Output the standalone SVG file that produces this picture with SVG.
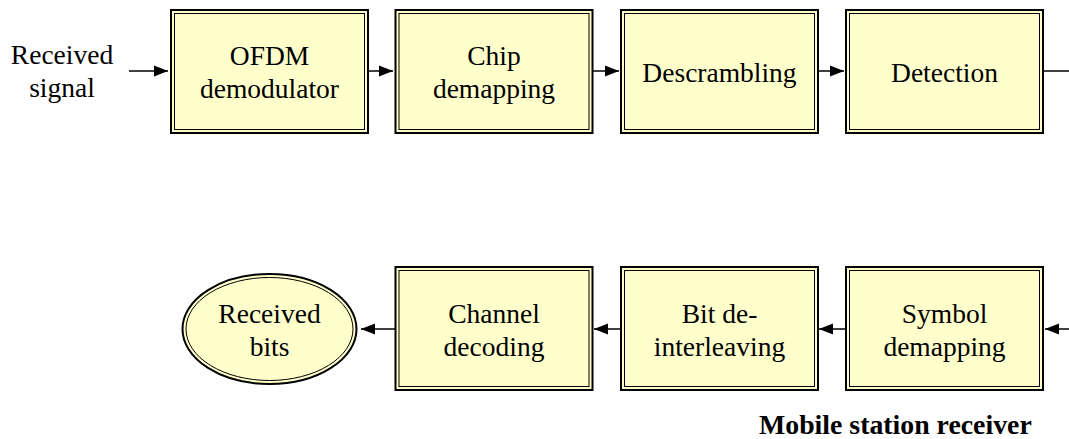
<svg xmlns="http://www.w3.org/2000/svg" width="1069" height="439" viewBox="0 0 1069 439">
<style>
.bg{fill:#ffffff}
.outer{fill:#ffffcc;stroke:#000;stroke-width:2}
.inner{fill:none;stroke:#000;stroke-width:1}
text{font-family:'Liberation Serif','Times New Roman',serif;fill:#000}
.t{font-size:27.5px;text-anchor:middle}
.title{font-size:27.8px;font-weight:700}
.c{fill:none;stroke:#000;stroke-width:1.5}
</style>
<defs>
<marker id="ah" markerUnits="userSpaceOnUse" markerWidth="15" markerHeight="13" refX="14" refY="6.5" orient="auto">
<path d="M0,1 L14,6.5 L0,12 Z" fill="#000"/>
</marker>
</defs>
<rect class="bg" x="0" y="0" width="1069" height="439"/>
<g id="connectors">
<path class="c" d="M129,71 H168" marker-end="url(#ah)"/>
<path class="c" d="M368,71 H393" marker-end="url(#ah)"/>
<path class="c" d="M592,71 H619" marker-end="url(#ah)"/>
<path class="c" d="M818,71 H844" marker-end="url(#ah)"/>
<path class="c" d="M1043,71 H1069"/>
<path class="c" d="M1069,329 H1045" marker-end="url(#ah)"/>
<path class="c" d="M846,329 H819" marker-end="url(#ah)"/>
<path class="c" d="M621,329 H594" marker-end="url(#ah)"/>
<path class="c" d="M395,329 H361" marker-end="url(#ah)"/>
</g>
<g id="input-label">
<text class="t" x="62" y="63.5">Received</text>
<text class="t" x="62" y="97">signal</text>
</g>
<g id="ofdm">
<rect class="outer" x="171" y="10" width="197" height="123"/>
<rect class="inner" x="174.5" y="13.5" width="190" height="116"/>
<text class="t" x="269.5" y="65">OFDM</text>
<text class="t" x="269.5" y="97.5">demodulator</text>
</g>
<g id="chip">
<rect class="outer" x="395.5" y="10" width="197" height="123"/>
<rect class="inner" x="399" y="13.5" width="190" height="116"/>
<text class="t" x="494" y="65">Chip</text>
<text class="t" x="494" y="97.5">demapping</text>
</g>
<g id="descrambling">
<rect class="outer" x="621" y="10" width="197" height="123"/>
<rect class="inner" x="624.5" y="13.5" width="190" height="116"/>
<text class="t" x="719.5" y="81.5">Descrambling</text>
</g>
<g id="detection">
<rect class="outer" x="846" y="10" width="197" height="123"/>
<rect class="inner" x="849.5" y="13.5" width="190" height="116"/>
<text class="t" x="944.5" y="81.5">Detection</text>
</g>
<g id="symbol">
<rect class="outer" x="846" y="267" width="197" height="123"/>
<rect class="inner" x="849.5" y="270.5" width="190" height="116"/>
<text class="t" x="944.5" y="322.5">Symbol</text>
<text class="t" x="944.5" y="355.5">demapping</text>
</g>
<g id="deinterleaving">
<rect class="outer" x="621" y="267" width="197" height="123"/>
<rect class="inner" x="624.5" y="270.5" width="190" height="116"/>
<text class="t" x="719.5" y="322.5">Bit de-</text>
<text class="t" x="719.5" y="355.5">interleaving</text>
</g>
<g id="channel">
<rect class="outer" x="395.5" y="267" width="197" height="123"/>
<rect class="inner" x="399" y="270.5" width="190" height="116"/>
<text class="t" x="494" y="322.5">Channel</text>
<text class="t" x="494" y="355.5">decoding</text>
</g>
<g id="received-bits">
<ellipse class="outer" cx="269.5" cy="329" rx="87" ry="55"/>
<ellipse class="inner" cx="269.5" cy="329" rx="83.5" ry="51.5"/>
<text class="t" x="269.5" y="323">Received</text>
<text class="t" x="269.5" y="356">bits</text>
</g>
<g id="caption">
<text class="title" x="759" y="434">Mobile station receiver</text>
</g>
</svg>
